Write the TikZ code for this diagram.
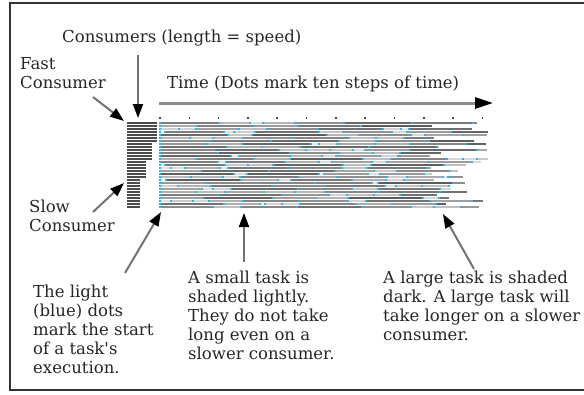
\documentclass[tikz,border=0pt]{standalone}
\usepackage{fontspec}
\setmainfont{DejaVu Serif}[Ligatures=TeXOff]
\usetikzlibrary{positioning}
\usetikzlibrary{arrows.meta}
\tikzset{
    note/.style = {inner sep=0pt, align=left, anchor=base west, text=black!85, font=\fontsize{16.5}{19}\selectfont},
    edgea/.style = {draw=black!55, line width=2pt, -{Triangle[length=14pt,width=10pt,color=black]}}, % callouts
    edget/.style = {draw=black!45, line width=3pt, -{Triangle[length=18pt,width=11pt,color=black]}}, % time axis
    consbar/.style = {draw=black!70, line width=2pt},
    taskline/.style = {line width=2pt},
    startdot/.style = {fill=cyan!85!white},
    tickdot/.style = {fill=black!70}
}

\begin{document}
\begin{tikzpicture}[x=1pt,y=-1pt]
\useasboundingbox (0,0) rectangle (584,394);
\clip (0,0) rectangle (584,394);
\draw[line width=1.5pt,black!80] (10,3) rectangle (640,390);
%
% base west of a multi-line note = baseline of its last line
\node[note] (consumers) at (62,42) {Consumers (length = speed)};
\node[note] (fast) at (20,88) {Fast\\Consumer};
\node[note] (time) at (167,88) {Time (Dots mark ten steps of time)};
\node[note] (slow) at (29,231) {Slow\\Consumer};
\node[note] (lightdots) at (33,373) {The light\\(blue) dots\\mark the start\\of a task's\\execution.};
\node[note] (smalltask) at (188,359) {A small task is\\shaded lightly.\\They do not take\\long even on a\\slower consumer.};
\node[note] (largetask) at (383,340) {A large task is shaded\\dark. A large task will\\take longer on a slower\\consumer.};
%
% consumers, fast at the top
\foreach \r/\len in {0/157,1/157,2/157,3/157,4/157,5/157,6/157,
                     7/152,8/152,9/152,10/152,11/152,12/152,
                     13/146,14/146,15/146,16/146,17/146,18/146,
                     19/140,20/140,21/140,22/140,23/140,24/140,25/140,26/140,27/140,28/140}
  \draw[consbar] (127,123+3*\r) -- (\len,123+3*\r);
%
% time dots
\foreach \k in {0,...,11}
  \fill[tickdot] (160+29.3*\k,118) ++(-0.8,-0.8) rectangle ++(1.6,1.6);
%
% tasks, one row per consumer
\pgfmathsetseed{42}
\foreach \r in {0,...,28}{
  \pgfmathsetmacro\rowy{123+3*\r}
  \pgfmathsetmacro\rowend{random(430,490)}
  \def\xpos{160}
  \loop
    \pgfmathsetmacro\seglen{random(5,75)}
    \pgfmathsetmacro\xnext{min(\xpos+\seglen,\rowend)}
    \pgfmathsetmacro\shade{int(min(76,4+\seglen*0.8))}
    \draw[taskline,black!\shade] (\xpos,\rowy) -- (\xnext,\rowy);
    \fill[startdot] (\xpos,\rowy) ++(-1,-1) rectangle ++(2,2);
    \let\xpos\xnext
  \ifdim\xpos pt<\rowend pt
  \repeat
}
%
\coordinate (constop) at (138,55);
\coordinate (constip) at (138,118);
\coordinate (fastfrom) at (93,97);
\coordinate (fasttip) at (124,121);
\coordinate (timefrom) at (159,103);
\coordinate (timetip) at (493,103);
\coordinate (slowfrom) at (93,212);
\coordinate (slowtip) at (124,183);
\coordinate (dotsfrom) at (125,273);
\coordinate (dotstip) at (161,212);
\coordinate (smallfrom) at (244,262);
\coordinate (smalltip) at (244,213);
\coordinate (largefrom) at (474,269);
\coordinate (largetip) at (443,214);
%
\draw[edgea] (constop) -- (constip);
\draw[edgea] (fastfrom) -- (fasttip);
\draw[edget] (timefrom) -- (timetip);
\draw[edgea] (slowfrom) -- (slowtip);
\draw[edgea] (dotsfrom) -- (dotstip);
\draw[edgea] (smallfrom) -- (smalltip);
\draw[edgea] (largefrom) -- (largetip);

\end{tikzpicture}
\end{document}
